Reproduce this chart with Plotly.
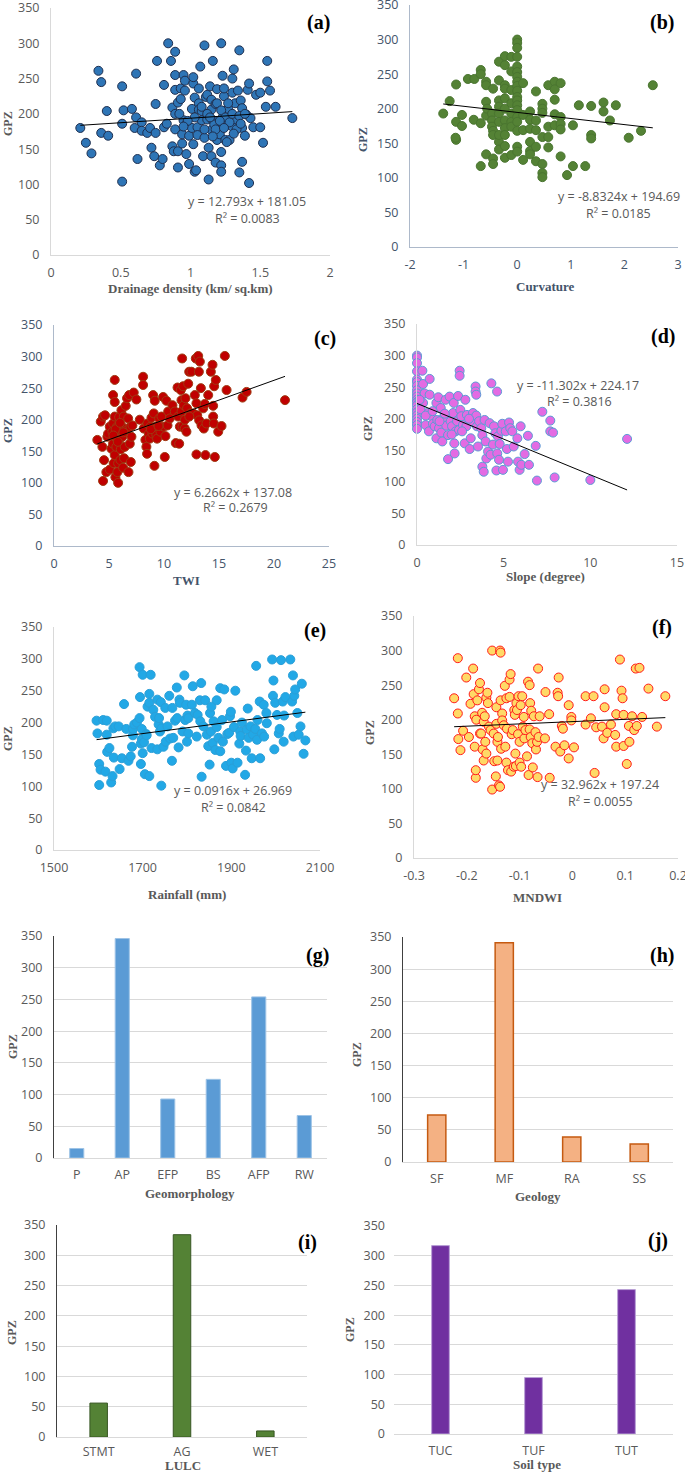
import plotly.graph_objects as go

W, H = 685, 1472

# ---------------- data ----------------
drainage_pts = [
    (0.21,180),(0.25,159),(0.29,144),(0.34,261),(0.36,245),(0.36,173),(0.40,204),(0.41,169),
    (0.51,239),(0.51,186),(0.52,205),(0.51,104),(0.58,207),(0.61,257),(0.61,195),(0.60,180),
    (0.62,136),(0.65,188),(0.65,176),(0.69,173),(0.71,180),(0.72,152),(0.74,140),(0.75,214),
    (0.75,173),(0.76,275),(0.78,127),(0.80,136),(0.81,241),(0.81,181),(0.83,186),(0.84,300),
    (0.86,275),(0.87,209),(0.87,154),(0.88,147),(0.89,255),(0.89,234),(0.89,288),(0.89,200),
    (0.89,178),(0.91,147),(0.91,124),(0.91,216),(0.93,221),(0.93,236),(0.94,158),(0.94,171),
    (0.95,255),(0.95,191),(0.96,233),(0.96,247),(0.97,143),(0.97,185),(0.99,129),(0.99,169),
    (1.01,207),(1.01,180),(1.02,243),(1.02,252),(1.02,157),(1.03,118),(1.03,223),(1.04,120),
    (1.05,181),(1.05,170),(1.06,215),(1.06,206),(1.06,236),(1.07,267),(1.08,204),(1.08,191),
    (1.09,140),(1.10,297),(1.10,166),(1.11,224),(1.12,192),(1.12,227),(1.13,107),(1.13,152),
    (1.14,239),(1.15,140),(1.15,177),(1.15,220),(1.15,206),(1.16,275),(1.16,191),(1.18,131),
    (1.18,214),(1.19,235),(1.19,163),(1.20,187),(1.21,171),(1.22,146),(1.22,300),(1.22,127),
    (1.22,118),(1.23,254),(1.23,195),(1.24,225),(1.24,236),(1.25,163),(1.26,184),(1.27,207),
    (1.28,163),(1.30,250),(1.30,230),(1.30,182),(1.31,263),(1.32,215),(1.33,192),(1.34,233),
    (1.35,290),(1.35,117),(1.36,219),(1.37,180),(1.37,208),(1.37,132),(1.39,169),(1.40,199),
    (1.41,234),(1.42,243),(1.42,102),(1.43,194),(1.45,181),(1.47,227),(1.50,230),(1.50,181),
    (1.52,159),(1.54,210),(1.55,246),(1.55,275),(1.57,233),(1.61,210),(1.73,194),
    (1.08,210),(1.12,200),(1.17,185),(1.19,215),(1.22,205),(1.25,195),(1.28,188),(1.30,200),
    (1.33,178),(1.35,197),(1.18,178),(1.14,195),(1.21,190),(1.27,215),(1.24,180),(1.03,195),
    (0.98,190),(0.95,182),(0.92,200),(1.36,186),(1.31,172),(1.26,160),(1.39,200),(1.10,178),
    (1.16,168),
]
curvature_pts = [
    (-1.38,193),(-1.26,211),(-1.14,235),(-1.14,181),(-1.14,155),(-1.15,158),(-1.03,191),(-1.03,175),
    (-0.92,243),(-0.81,184),(-0.80,243),(-0.68,256),(-0.68,250),(-0.68,179),(-0.68,117),(-0.58,134),
    (-0.58,190),(-0.58,210),(-0.58,239),(-0.58,234),(-0.56,200),(-0.47,193),(-0.47,183),(-0.47,174),
    (-0.45,168),(-0.45,162),(-0.45,229),(-0.45,128),(-0.45,120),(-0.34,268),(-0.34,241),(-0.34,212),
    (-0.34,203),(-0.34,193),(-0.34,181),(-0.34,152),(-0.34,141),(-0.34,162),(-0.23,276),(-0.23,263),
    (-0.23,234),(-0.23,229),(-0.23,215),(-0.23,200),(-0.23,183),(-0.23,172),(-0.23,162),(-0.23,146),
    (-0.23,129),(-0.11,275),(-0.11,254),(-0.11,227),(-0.11,208),(-0.11,193),(-0.11,181),(-0.11,174),
    (-0.11,133),(0,300),(0,295),(0,288),(0,275),(0,261),(0,253),(0,246),(0,239),(0,233),(0,226),
    (0,217),(0,212),(0,205),(0,198),(0,188),(0,181),(0,168),(0,145),(0,138),(0.11,237),(0.11,191),
    (0.11,169),(0.11,126),(0.24,196),(0.24,184),(0.24,171),(0.24,152),(0.24,139),(0.24,134),
    (0.35,225),(0.35,183),(0.35,169),(0.35,145),(0.35,124),(0.47,207),(0.47,200),(0.47,194),
    (0.47,159),(0.47,120),(0.47,107),(0.47,101),(0.58,234),(0.58,174),(0.58,159),(0.58,144),
    (0.70,239),(0.70,228),(0.70,213),(0.70,192),(0.70,176),(0.81,237),(0.81,188),(0.81,178),
    (0.81,170),(0.81,131),(0.93,104),(1.04,176),(1.04,117),(1.15,205),(1.27,117),(1.38,204),
    (1.38,162),(1.38,157),(1.61,209),(1.61,196),(1.73,183),(1.84,205),(2.08,158),(2.31,168),
    (2.53,234),
]
twi_pts = [
    (3.94,168),(4.25,197),(4.46,205),(4.40,157),(4.46,103),(4.55,136),(4.64,207),(4.76,117),
    (4.85,173),(4.92,178),(5.07,189),(5.07,121),(5.22,154),(5.31,181),(5.37,239),(5.37,194),
    (5.37,162),(5.43,131),(5.52,263),(5.52,228),(5.52,205),(5.52,173),(5.52,144),(5.58,109),
    (5.67,157),(5.73,189),(5.76,117),(5.83,100),(5.83,131),(5.92,204),(5.92,181),(5.98,170),
    (6.04,136),(6.07,153),(6.13,215),(6.19,189),(6.22,173),(6.28,124),(6.34,205),(6.37,139),
    (6.43,157),(6.52,222),(6.58,183),(6.64,234),(6.74,202),(6.77,117),(6.83,239),(6.89,162),
    (6.95,189),(6.98,133),(7.04,173),(7.13,191),(7.25,243),(7.49,232),(7.80,200),(8.10,268),
    (8.10,255),(8.16,186),(8.31,168),(8.40,157),(8.46,146),(8.49,194),(8.62,178),(8.71,170),
    (8.77,189),(8.86,203),(8.95,178),(9.01,239),(9.07,210),(9.13,127),(9.16,230),(9.25,189),
    (9.31,176),(9.37,170),(9.56,202),(9.68,181),(9.77,205),(9.92,236),(9.98,189),(10.07,141),
    (10.13,174),(10.22,230),(10.32,191),(10.38,213),(10.53,202),(10.77,223),(10.98,213),(11.07,163),
    (11.23,251),(11.29,205),(11.38,162),(11.44,189),(11.53,247),(11.59,231),(11.59,213),(11.65,297),
    (11.68,189),(11.74,253),(11.80,223),(11.89,186),(11.95,234),(12.04,181),(12.10,218),(12.20,257),
    (12.29,276),(12.41,210),(12.50,276),(12.65,210),(12.80,239),(12.89,297),(12.95,145),(12.95,226),
    (13.02,207),(13.11,301),(13.17,276),(13.20,199),(13.26,292),(13.35,250),(13.41,191),(13.56,218),
    (13.62,186),(13.71,225),(13.77,144),(13.86,194),(14.02,239),(14.26,276),(14.41,287),(14.47,222),
    (14.47,205),(14.53,194),(14.56,253),(14.62,141),(14.71,263),(14.93,181),(15.23,190),(15.53,301),
    (15.69,247),(17.14,235),(17.51,244),(21.0,231),
    (5.6,185),(6.0,195),(5.4,175),(6.3,180),(5.8,165),(8.8,185),(9.5,190),(11.9,200),(12.3,205),
]
slope_pts = [
    (0,300),(0,297),(0,288),(0,275),(0,262),(0,258),(0,252),(0,245),(0,240),(0,235),(0,230),
    (0,226),(0,221),(0,215),(0,210),(0,205),(0,200),(0,195),(0,190),(0,184),
    (0.31,276),(0.35,255),(0.35,225),(0.44,240),(0.50,190),(0.60,209),(0.69,180),(0.73,263),
    (0.73,238),(0.83,204),(0.92,192),(1.02,188),(1.12,225),(1.12,169),(1.17,198),(1.23,234),
    (1.27,185),(1.37,217),(1.40,178),(1.46,164),(1.54,202),(1.65,230),(1.69,189),(1.79,136),
    (1.79,174),(1.88,235),(1.94,196),(2.02,188),(2.08,209),(2.12,225),(2.15,161),(2.17,145),
    (2.23,180),(2.31,196),(2.37,236),(2.42,182),(2.46,276),(2.46,268),(2.50,214),(2.56,204),
    (2.65,190),(2.75,161),(2.79,230),(2.85,188),(2.88,206),(3.04,152),(3.10,169),(3.13,196),
    (3.23,209),(3.38,251),(3.38,243),(3.42,238),(3.42,205),(3.46,188),(3.52,156),(3.58,196),
    (3.71,185),(3.77,174),(3.77,124),(3.85,116),(3.90,198),(3.96,164),(4.00,137),(4.10,148),
    (4.19,193),(4.25,143),(4.29,256),(4.38,159),(4.44,188),(4.52,177),(4.58,118),(4.62,243),
    (4.63,145),(4.67,172),(4.73,135),(4.77,160),(4.87,181),(4.92,192),(4.96,119),(5.12,180),
    (5.19,152),(5.25,132),(5.31,194),(5.38,185),(5.50,180),(5.58,156),(5.79,169),(5.83,132),
    (5.92,119),(5.98,188),(6.02,127),(6.21,144),(6.40,173),(6.46,127),(6.85,157),(6.92,102),
    (7.23,211),(7.69,197),(7.69,180),(7.85,178),(7.94,107),(10.0,103),(12.12,168),
    (0.2,215),(0.5,205),(0.9,212),(1.3,196),(1.6,208),(2.0,175),(2.6,180),(3.0,200),(0.15,230),
]
rainfall_pts = [
    (1596,203),(1598,183),(1602,102),(1602,135),(1605,126),(1611,204),(1616,123),(1619,203),
    (1619,181),(1620,154),(1625,160),(1629,106),(1632,116),(1634,191),(1635,145),(1638,194),
    (1646,194),(1648,127),(1653,144),(1658,229),(1663,190),(1668,140),(1673,147),(1676,162),
    (1678,180),(1678,190),(1681,197),(1687,200),(1693,207),(1693,287),(1694,240),(1696,167),
    (1696,135),(1698,174),(1698,190),(1700,275),(1700,152),(1703,169),(1705,119),(1708,182),
    (1709,180),(1711,225),(1715,116),(1715,245),(1715,231),(1718,275),(1720,160),(1724,220),
    (1728,209),(1733,158),(1733,236),(1736,197),(1737,207),(1739,186),(1741,232),(1742,101),
    (1743,191),(1747,162),(1751,223),(1752,170),(1756,194),(1760,242),(1762,175),(1766,140),
    (1767,223),(1769,176),(1773,203),(1777,255),(1778,207),(1781,161),(1783,236),(1784,231),
    (1790,186),(1794,274),(1796,204),(1798,228),(1800,170),(1801,211),(1803,183),(1803,207),
    (1811,228),(1813,257),(1818,215),(1822,178),(1824,212),(1829,235),(1830,202),(1832,262),
    (1833,115),(1837,194),(1841,235),(1845,181),(1848,163),(1851,134),(1852,215),(1854,186),
    (1855,225),(1858,168),(1860,202),(1864,157),(1867,235),(1867,193),(1871,176),(1875,254),
    (1875,155),(1879,204),(1881,170),(1884,252),(1888,132),(1891,182),(1895,184),(1897,210),
    (1899,217),(1900,137),(1903,128),(1906,193),(1909,250),(1914,137),(1918,167),(1920,186),
    (1921,179),(1924,200),(1931,118),(1933,156),(1935,189),(1937,222),(1939,176),(1943,194),
    (1946,144),(1949,181),(1954,190),(1956,289),(1958,173),(1959,204),(1964,233),(1965,144),
    (1969,183),(1973,228),(1974,178),(1979,215),(1980,199),(1992,299),(1994,242),(1995,266),
    (1997,158),(1999,231),(2003,212),(2007,183),(2009,190),(2012,298),(2016,233),(2018,170),
    (2019,211),(2022,240),(2033,299),(2037,233),(2039,274),(2040,178),(2042,242),(2044,252),
    (2049,215),(2052,181),(2056,194),(2059,261),(2063,151),(2067,172),
]
mndwi_pts = [
    (-0.224,231),(-0.217,289),(-0.217,209),(-0.216,172),(-0.212,156),(-0.207,184),(-0.201,261),
    (-0.196,175),(-0.193,223),(-0.188,274),(-0.187,237),(-0.185,161),(-0.185,205),(-0.183,116),
    (-0.183,127),(-0.182,200),(-0.180,228),(-0.177,244),(-0.175,253),(-0.175,180),(-0.173,180),
    (-0.171,210),(-0.170,157),(-0.168,141),(-0.168,197),(-0.166,205),(-0.165,168),(-0.163,151),
    (-0.163,232),(-0.161,239),(-0.160,224),(-0.158,190),(-0.155,185),(-0.152,300),(-0.152,99),
    (-0.149,180),(-0.148,140),(-0.145,118),(-0.144,218),(-0.144,194),(-0.142,168),(-0.142,141),
    (-0.141,175),(-0.139,105),(-0.137,300),(-0.137,103),(-0.136,297),(-0.136,228),(-0.135,158),
    (-0.133,209),(-0.133,199),(-0.130,192),(-0.128,249),(-0.127,161),(-0.125,138),(-0.125,231),
    (-0.124,187),(-0.122,127),(-0.119,233),(-0.119,258),(-0.117,266),(-0.116,125),(-0.115,179),
    (-0.113,185),(-0.111,132),(-0.110,214),(-0.109,207),(-0.108,151),(-0.107,133),(-0.106,224),
    (-0.105,214),(-0.103,179),(-0.102,234),(-0.100,138),(-0.100,168),(-0.098,221),(-0.097,132),
    (-0.095,234),(-0.094,190),(-0.092,204),(-0.091,173),(-0.089,185),(-0.086,147),(-0.084,255),
    (-0.083,120),(-0.081,250),(-0.081,186),(-0.080,224),(-0.079,175),(-0.078,213),(-0.076,166),
    (-0.075,131),(-0.073,205),(-0.070,182),(-0.069,157),(-0.067,168),(-0.066,117),(-0.065,274),
    (-0.064,175),(-0.062,205),(-0.052,173),(-0.051,240),(-0.044,208),(-0.043,116),(-0.032,161),
    (-0.028,239),(-0.027,234),(-0.026,261),(-0.023,154),(-0.020,191),(-0.018,187),(-0.015,163),
    (-0.007,144),(-0.007,221),(-0.002,204),(-0.002,199),(0.003,160),(0.025,193),(0.025,234),
    (0.035,202),(0.040,234),(0.042,123),(0.045,189),(0.056,190),(0.059,173),(0.061,244),
    (0.061,218),(0.066,181),(0.073,193),(0.081,178),(0.083,208),(0.083,161),(0.090,287),
    (0.093,242),(0.095,231),(0.097,207),(0.097,162),(0.103,136),(0.107,191),(0.108,168),
    (0.113,205),(0.117,185),(0.120,274),(0.122,191),(0.127,275),(0.132,204),(0.144,245),
    (0.160,190),(0.176,234),
]

trend_slopes = [12.793, -8.8324, 6.2662, -11.302, 0.0916, 32.962]
trend_intercepts = [181.05, 194.69, 137.08, 224.17, 26.969, 197.24]
trend_r2 = ["0.0083", "0.0185", "0.2679", "0.3816", "0.0842", "0.0055"]
scatter_titles = ["Drainage density (km/ sq.km)", "Curvature", "TWI", "Slope (degree)", "Rainfall (mm)", "MNDWI"]
scatter_xticks = [[0, 0.5, 1, 1.5, 2], [-2, -1, 0, 1, 2, 3], [0, 5, 10, 15, 20, 25],
                  [0, 5, 10, 15], [1500, 1700, 1900, 2100], [-0.3, -0.2, -0.1, 0, 0.1, 0.2]]
scatter_xticklabels = [["0", "0.5", "1", "1.5", "2"], ["-2", "-1", "0", "1", "2", "3"],
                       ["0", "5", "10", "15", "20", "25"], ["0", "5", "10", "15"],
                       ["1500", "1700", "1900", "2100"], ["-0.3", "-0.2", "-0.1", "0", "0.1", "0.2"]]
gpz_ticks = [0, 50, 100, 150, 200, 250, 300, 350]

geomorph_cats = ["P", "AP", "EFP", "BS", "AFP", "RW"]
geomorph_vals = [15, 346, 93, 124, 254, 67]
geology_cats = ["SF", "MF", "RA", "SS"]
geology_vals = [73, 341, 39, 28]
lulc_cats = ["STMT", "AG", "WET"]
lulc_vals = [56, 334, 10]
soil_cats = ["TUC", "TUF", "TUT"]
soil_vals = [317, 95, 243]
bar_titles = ["Geomorphology", "Geology", "LULC", "Soil type"]

# ---------------- styling / layout ----------------
def px(x):
    return x / W

def py(y):
    return 1 - y / H

TICK_FONT = "Open Sans"
TITLE_FONT = "Liberation Serif"

scatter_style = [
    dict(pts=drainage_pts, fill="#2E75B6", edge="#1F2F4F", xd=(51, 330), yd=(8, 255), xr=(0, 2),
         tc="#595959", letter="(a)", lp=(318, 22), xt=(190, 288), yt=(8, 123), eq=(247, 202), r2=(247, 219)),
    dict(pts=curvature_pts, fill="#548235", edge="#4A7530", xd=(410, 678), yd=(5, 247), xr=(-2, 3),
         tc="#44546A", letter="(b)", lp=(662, 22), xt=(545, 286), yt=(363, 140), eq=(619, 197), r2=(618, 213)),
    dict(pts=twi_pts, fill="#C00000", edge="#9E3A12", xd=(54, 329), yd=(325, 546), xr=(0, 25),
         tc="#44546A", letter="(c)", lp=(325, 338), xt=(187, 580), yt=(8, 430), eq=(233, 492), r2=(235, 508)),
    dict(pts=slope_pts, fill="#E36BE3", edge="#5B9BD5", xd=(417, 677), yd=(324, 545), xr=(0, 15),
         tc="#595959", letter="(d)", lp=(663, 337), xt=(545, 577), yt=(368, 429), eq=(578, 385), r2=(579, 401)),
    dict(pts=rainfall_pts, fill="#22A8E6", edge="#2A9FD8", xd=(54, 320), yd=(627, 850), xr=(1500, 2100),
         tc="#595959", letter="(e)", lp=(315, 630), xt=(187, 894), yt=(8, 738), eq=(233, 790), r2=(233, 807)),
    dict(pts=mndwi_pts, fill="#FFD966", edge="#FF1A1A", xd=(414, 678), yd=(616, 858), xr=(-0.3, 0.2),
         tc="#595959", letter="(f)", lp=(662, 628), xt=(537, 897), yt=(370, 733), eq=(600, 784), r2=(600, 801)),
]

bar_style = [
    dict(cats=geomorph_cats, vals=geomorph_vals, fill="#5B9BD5", edge="#9DC3E6", ew=1, width=0.31, so=5,
         xd=(54, 327), yd=(936, 1158), yline="#404040", letter="(g)", lp=(317, 955), xt=(190, 1193), yt=(13, 1047)),
    dict(cats=geology_cats, vals=geology_vals, fill="#F4B183", edge="#C55A11", ew=1.5, width=0.27, so=5,
         xd=(403, 673), yd=(937, 1162), yline="#404040", letter="(h)", lp=(662, 955), xt=(538, 1196), yt=(357, 1055)),
    dict(cats=lulc_cats, vals=lulc_vals, fill="#548235", edge="#375623", ew=1, width=0.21, so=3,
         xd=(57, 307), yd=(1225, 1437), yline="#404040", letter="(i)", lp=(307, 1242), xt=(183, 1465), yt=(12, 1333)),
    dict(cats=soil_cats, vals=soil_vals, fill="#7030A0", edge="#B9A0D6", ew=1, width=0.19, so=5,
         xd=(394, 673), yd=(1226, 1434), yline=None, letter="(j)", lp=(658, 1240), xt=(537, 1464), yt=(350, 1330)),
]

fig = go.Figure()
layout = dict(width=W, height=H, margin=dict(l=0, r=0, t=0, b=0, autoexpand=False),
              paper_bgcolor="white", plot_bgcolor="white", showlegend=False)
annotations = []


def add_text(text, pos, size, color, family, bold=False, angle=0):
    annotations.append(dict(
        text=("<b>%s</b>" % text) if bold else text,
        x=px(pos[0]), y=py(pos[1]), xref="paper", yref="paper",
        xanchor="center", yanchor="middle", showarrow=False, textangle=angle,
        font=dict(size=size, color=color, family=family)))


n = 0
for i, s in enumerate(scatter_style):
    n += 1
    xs = [p[0] for p in s["pts"]]
    ys = [p[1] for p in s["pts"]]
    xa, ya = ("x%d" % n if n > 1 else "x"), ("y%d" % n if n > 1 else "y")
    fig.add_trace(go.Scatter(x=xs, y=ys, mode="markers", xaxis=xa, yaxis=ya, cliponaxis=False,
                             marker=dict(size=9, color=s["fill"], line=dict(color=s["edge"], width=1))))
    x0, x1 = min(xs), max(xs)
    fig.add_trace(go.Scatter(x=[x0, x1],
                             y=[trend_slopes[i] * x0 + trend_intercepts[i], trend_slopes[i] * x1 + trend_intercepts[i]],
                             mode="lines", xaxis=xa, yaxis=ya, line=dict(color="black", width=1)))
    axline = "#ADB9CA" if s["tc"] == "#44546A" else "#D9D9D9"
    tf = dict(family=TICK_FONT, size=12.5, color=s["tc"])
    layout["xaxis%d" % n] = dict(domain=[px(s["xd"][0]), px(s["xd"][1])], range=list(s["xr"]), anchor=ya,
                                 showline=True, linecolor=axline, linewidth=1, showgrid=False, zeroline=False,
                                 tickvals=scatter_xticks[i], ticktext=scatter_xticklabels[i], ticks="",
                                 tickfont=tf, ticklabelstandoff=6, fixedrange=True, automargin=False,
                                 ticklabeloverflow="allow")
    layout["yaxis%d" % n] = dict(domain=[py(s["yd"][1]), py(s["yd"][0])], range=[0, 350], anchor=xa,
                                 showline=True, linecolor=axline, linewidth=1, showgrid=False, zeroline=False,
                                 tickvals=gpz_ticks, ticks="", tickfont=tf, ticklabelstandoff=8, fixedrange=True,
                                 automargin=False, ticklabeloverflow="allow")
    add_text(s["letter"], s["lp"], 20, "black", TITLE_FONT, bold=True)
    add_text(scatter_titles[i], s["xt"], 13, s["tc"], TITLE_FONT, bold=True)
    add_text("GPZ", s["yt"], 12, s["tc"], TITLE_FONT, bold=True, angle=-90)
    sign = "-" if trend_slopes[i] < 0 else ""
    eq_text = "y = %s%sx + %s" % (sign, ("%g" % abs(trend_slopes[i])), ("%g" % trend_intercepts[i]))
    add_text(eq_text, s["eq"], 12.5, "#595959", TICK_FONT)
    add_text("R² = %s" % trend_r2[i], s["r2"], 12.5, "#595959", TICK_FONT)

for j, s in enumerate(bar_style):
    n += 1
    xa, ya = "x%d" % n, "y%d" % n
    fig.add_trace(go.Bar(x=s["cats"], y=s["vals"], xaxis=xa, yaxis=ya, width=s["width"],
                         marker=dict(color=s["fill"], line=dict(color=s["edge"], width=s["ew"]))))
    tf = dict(family=TICK_FONT, size=12.5, color="#595959")
    layout["xaxis%d" % n] = dict(domain=[px(s["xd"][0]), px(s["xd"][1])], type="category",
                                 range=[-0.5, len(s["cats"]) - 0.5], anchor=ya,
                                 showline=True, linecolor="#D9D9D9", linewidth=1, showgrid=False, zeroline=False,
                                 ticks="", tickfont=tf, ticklabelstandoff=s["so"], fixedrange=True, automargin=False,
                                 ticklabeloverflow="allow")
    yax = dict(domain=[py(s["yd"][1]), py(s["yd"][0])], range=[0, 350], anchor=xa,
               showgrid=True, gridcolor="#D9D9D9", gridwidth=1, zeroline=False,
               tickvals=gpz_ticks, ticks="", tickfont=tf, ticklabelstandoff=8, fixedrange=True, automargin=False,
               ticklabeloverflow="allow")
    if s["yline"]:
        yax.update(showline=True, linecolor=s["yline"], linewidth=1)
    else:
        yax.update(showline=False)
    layout["yaxis%d" % n] = yax
    add_text(s["letter"], s["lp"], 20, "black", TITLE_FONT, bold=True)
    add_text(bar_titles[j], s["xt"], 13, "#595959", TITLE_FONT, bold=True)
    add_text("GPZ", s["yt"], 12, "#595959", TITLE_FONT, bold=True, angle=-90)

layout["annotations"] = annotations
fig.update_layout(**layout)
fig.write_html("out.html", config={"displayModeBar": False},
               post_script="document.body.style.margin='0';document.body.style.overflow='hidden';")
